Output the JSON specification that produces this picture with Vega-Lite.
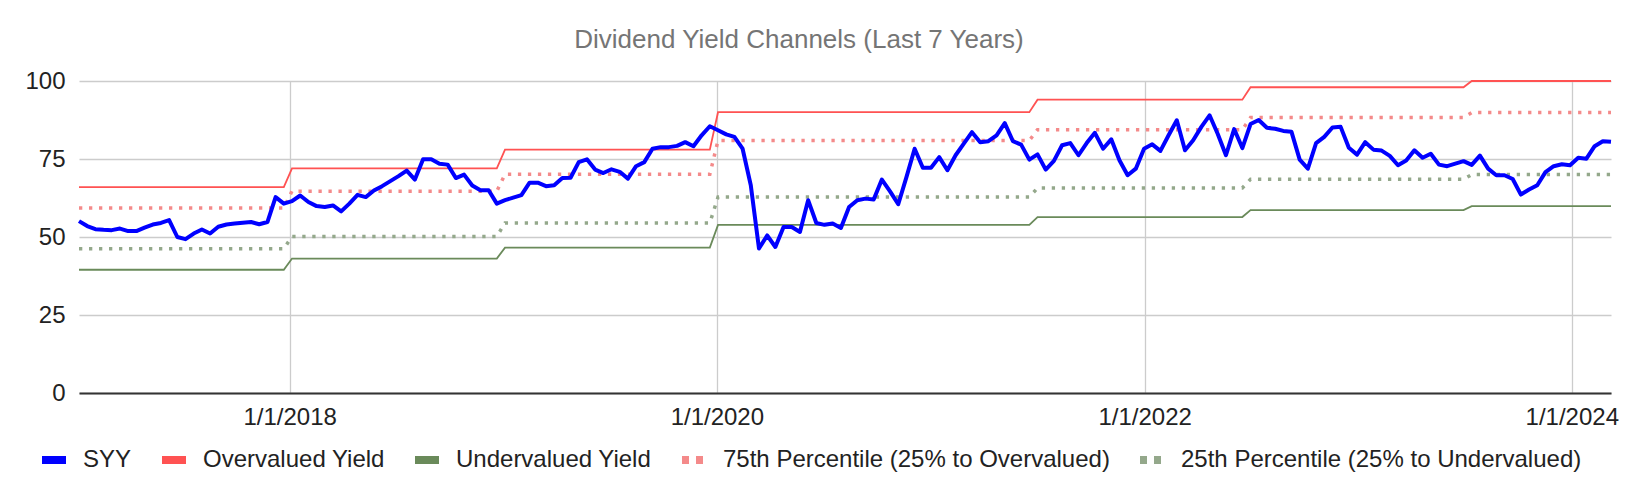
{
  "$schema": "https://vega.github.io/schema/vega-lite/v6.json",
  "width": 1532,
  "height": 312,
  "autosize": {"type": "none"},
  "padding": {"left": 79, "top": 81, "right": 25, "bottom": 101},
  "background": "white",
  "config": {"view": {"stroke": null}, "font": "Liberation Sans"},
  "title": {
    "text": "Dividend Yield Channels (Last 7 Years)",
    "fontSize": 26,
    "fontWeight": "normal",
    "color": "#757575",
    "anchor": "middle",
    "frame": "group",
    "dx": -46,
    "offset": -5,
    "baseline": "alphabetic"
  },
  "datasets": {
    "channels": [
      {"d": "2017-01-06", "s": "Overvalued Yield", "v": 66},
      {"d": "2017-12-22", "s": "Overvalued Yield", "v": 66},
      {"d": "2018-01-05", "s": "Overvalued Yield", "v": 72},
      {"d": "2018-12-21", "s": "Overvalued Yield", "v": 72},
      {"d": "2019-01-04", "s": "Overvalued Yield", "v": 78},
      {"d": "2019-12-20", "s": "Overvalued Yield", "v": 78},
      {"d": "2020-01-03", "s": "Overvalued Yield", "v": 90},
      {"d": "2021-06-18", "s": "Overvalued Yield", "v": 90},
      {"d": "2021-07-02", "s": "Overvalued Yield", "v": 94},
      {"d": "2022-06-17", "s": "Overvalued Yield", "v": 94},
      {"d": "2022-07-01", "s": "Overvalued Yield", "v": 98},
      {"d": "2023-06-30", "s": "Overvalued Yield", "v": 98},
      {"d": "2023-07-14", "s": "Overvalued Yield", "v": 100},
      {"d": "2024-03-08", "s": "Overvalued Yield", "v": 100},
      {"d": "2017-01-06", "s": "Undervalued Yield", "v": 39.5},
      {"d": "2017-12-22", "s": "Undervalued Yield", "v": 39.5},
      {"d": "2018-01-05", "s": "Undervalued Yield", "v": 43.1},
      {"d": "2018-12-21", "s": "Undervalued Yield", "v": 43.1},
      {"d": "2019-01-04", "s": "Undervalued Yield", "v": 46.6},
      {"d": "2019-12-20", "s": "Undervalued Yield", "v": 46.6},
      {"d": "2020-01-03", "s": "Undervalued Yield", "v": 53.9},
      {"d": "2021-06-18", "s": "Undervalued Yield", "v": 53.9},
      {"d": "2021-07-02", "s": "Undervalued Yield", "v": 56.4},
      {"d": "2022-06-17", "s": "Undervalued Yield", "v": 56.4},
      {"d": "2022-07-01", "s": "Undervalued Yield", "v": 58.6},
      {"d": "2023-06-30", "s": "Undervalued Yield", "v": 58.6},
      {"d": "2023-07-14", "s": "Undervalued Yield", "v": 59.9},
      {"d": "2024-03-08", "s": "Undervalued Yield", "v": 59.9},
      {"d": "2017-01-06", "s": "75th Percentile (25% to Overvalued)", "v": 59.3},
      {"d": "2017-12-22", "s": "75th Percentile (25% to Overvalued)", "v": 59.3},
      {"d": "2018-01-05", "s": "75th Percentile (25% to Overvalued)", "v": 64.7},
      {"d": "2018-12-21", "s": "75th Percentile (25% to Overvalued)", "v": 64.7},
      {"d": "2019-01-04", "s": "75th Percentile (25% to Overvalued)", "v": 70.1},
      {"d": "2019-12-20", "s": "75th Percentile (25% to Overvalued)", "v": 70.1},
      {"d": "2020-01-03", "s": "75th Percentile (25% to Overvalued)", "v": 80.9},
      {"d": "2021-06-18", "s": "75th Percentile (25% to Overvalued)", "v": 80.9},
      {"d": "2021-07-02", "s": "75th Percentile (25% to Overvalued)", "v": 84.4},
      {"d": "2022-06-17", "s": "75th Percentile (25% to Overvalued)", "v": 84.4},
      {"d": "2022-07-01", "s": "75th Percentile (25% to Overvalued)", "v": 88.3},
      {"d": "2023-06-30", "s": "75th Percentile (25% to Overvalued)", "v": 88.3},
      {"d": "2023-07-14", "s": "75th Percentile (25% to Overvalued)", "v": 89.9},
      {"d": "2024-03-08", "s": "75th Percentile (25% to Overvalued)", "v": 89.9},
      {"d": "2017-01-06", "s": "25th Percentile (25% to Undervalued)", "v": 46.2},
      {"d": "2017-12-22", "s": "25th Percentile (25% to Undervalued)", "v": 46.2},
      {"d": "2018-01-05", "s": "25th Percentile (25% to Undervalued)", "v": 50.2},
      {"d": "2018-12-21", "s": "25th Percentile (25% to Undervalued)", "v": 50.2},
      {"d": "2019-01-04", "s": "25th Percentile (25% to Undervalued)", "v": 54.5},
      {"d": "2019-12-20", "s": "25th Percentile (25% to Undervalued)", "v": 54.5},
      {"d": "2020-01-03", "s": "25th Percentile (25% to Undervalued)", "v": 62.8},
      {"d": "2021-06-18", "s": "25th Percentile (25% to Undervalued)", "v": 62.8},
      {"d": "2021-07-02", "s": "25th Percentile (25% to Undervalued)", "v": 65.7},
      {"d": "2022-06-17", "s": "25th Percentile (25% to Undervalued)", "v": 65.7},
      {"d": "2022-07-01", "s": "25th Percentile (25% to Undervalued)", "v": 68.5},
      {"d": "2023-06-30", "s": "25th Percentile (25% to Undervalued)", "v": 68.5},
      {"d": "2023-07-14", "s": "25th Percentile (25% to Undervalued)", "v": 70.0},
      {"d": "2024-03-08", "s": "25th Percentile (25% to Undervalued)", "v": 70.0}
    ],
    "syy": [
      {"d": "2017-01-06", "s": "SYY", "v": 55.1}, {"d": "2017-01-20", "s": "SYY", "v": 53.5},
      {"d": "2017-02-03", "s": "SYY", "v": 52.5}, {"d": "2017-02-17", "s": "SYY", "v": 52.3},
      {"d": "2017-03-03", "s": "SYY", "v": 52.2}, {"d": "2017-03-17", "s": "SYY", "v": 52.7},
      {"d": "2017-03-31", "s": "SYY", "v": 51.9}, {"d": "2017-04-14", "s": "SYY", "v": 51.9},
      {"d": "2017-04-28", "s": "SYY", "v": 53.0}, {"d": "2017-05-12", "s": "SYY", "v": 54.0},
      {"d": "2017-05-26", "s": "SYY", "v": 54.5}, {"d": "2017-06-09", "s": "SYY", "v": 55.4},
      {"d": "2017-06-23", "s": "SYY", "v": 50.0}, {"d": "2017-07-07", "s": "SYY", "v": 49.3},
      {"d": "2017-07-21", "s": "SYY", "v": 51.1}, {"d": "2017-08-04", "s": "SYY", "v": 52.4},
      {"d": "2017-08-18", "s": "SYY", "v": 51.1}, {"d": "2017-09-01", "s": "SYY", "v": 53.3},
      {"d": "2017-09-15", "s": "SYY", "v": 54.0}, {"d": "2017-09-29", "s": "SYY", "v": 54.3},
      {"d": "2017-10-13", "s": "SYY", "v": 54.6}, {"d": "2017-10-27", "s": "SYY", "v": 54.8},
      {"d": "2017-11-10", "s": "SYY", "v": 54.1}, {"d": "2017-11-24", "s": "SYY", "v": 54.8},
      {"d": "2017-12-08", "s": "SYY", "v": 62.8}, {"d": "2017-12-22", "s": "SYY", "v": 60.7},
      {"d": "2018-01-05", "s": "SYY", "v": 61.5}, {"d": "2018-01-19", "s": "SYY", "v": 63.3},
      {"d": "2018-02-02", "s": "SYY", "v": 61.2}, {"d": "2018-02-16", "s": "SYY", "v": 59.9},
      {"d": "2018-03-02", "s": "SYY", "v": 59.6}, {"d": "2018-03-16", "s": "SYY", "v": 60.1},
      {"d": "2018-03-30", "s": "SYY", "v": 58.2}, {"d": "2018-04-13", "s": "SYY", "v": 60.7},
      {"d": "2018-04-27", "s": "SYY", "v": 63.5}, {"d": "2018-05-11", "s": "SYY", "v": 62.8},
      {"d": "2018-05-25", "s": "SYY", "v": 64.9}, {"d": "2018-06-08", "s": "SYY", "v": 66.3},
      {"d": "2018-06-22", "s": "SYY", "v": 67.9}, {"d": "2018-07-06", "s": "SYY", "v": 69.5},
      {"d": "2018-07-20", "s": "SYY", "v": 71.3}, {"d": "2018-08-03", "s": "SYY", "v": 68.4},
      {"d": "2018-08-17", "s": "SYY", "v": 74.9}, {"d": "2018-08-31", "s": "SYY", "v": 74.9},
      {"d": "2018-09-14", "s": "SYY", "v": 73.5}, {"d": "2018-09-28", "s": "SYY", "v": 73.2},
      {"d": "2018-10-12", "s": "SYY", "v": 68.9}, {"d": "2018-10-26", "s": "SYY", "v": 70.0},
      {"d": "2018-11-09", "s": "SYY", "v": 66.5}, {"d": "2018-11-23", "s": "SYY", "v": 65.0},
      {"d": "2018-12-07", "s": "SYY", "v": 65.0}, {"d": "2018-12-21", "s": "SYY", "v": 60.7},
      {"d": "2019-01-04", "s": "SYY", "v": 61.8}, {"d": "2019-01-18", "s": "SYY", "v": 62.6},
      {"d": "2019-02-01", "s": "SYY", "v": 63.4}, {"d": "2019-02-15", "s": "SYY", "v": 67.4},
      {"d": "2019-03-01", "s": "SYY", "v": 67.4}, {"d": "2019-03-15", "s": "SYY", "v": 66.3},
      {"d": "2019-03-29", "s": "SYY", "v": 66.6}, {"d": "2019-04-12", "s": "SYY", "v": 68.9},
      {"d": "2019-04-26", "s": "SYY", "v": 69.0}, {"d": "2019-05-10", "s": "SYY", "v": 74.0},
      {"d": "2019-05-24", "s": "SYY", "v": 74.9}, {"d": "2019-06-07", "s": "SYY", "v": 71.6},
      {"d": "2019-06-21", "s": "SYY", "v": 70.5}, {"d": "2019-07-05", "s": "SYY", "v": 71.7},
      {"d": "2019-07-19", "s": "SYY", "v": 70.9}, {"d": "2019-08-02", "s": "SYY", "v": 68.7},
      {"d": "2019-08-16", "s": "SYY", "v": 72.7}, {"d": "2019-08-30", "s": "SYY", "v": 74.0},
      {"d": "2019-09-13", "s": "SYY", "v": 78.3}, {"d": "2019-09-27", "s": "SYY", "v": 78.8},
      {"d": "2019-10-11", "s": "SYY", "v": 78.8}, {"d": "2019-10-25", "s": "SYY", "v": 79.2},
      {"d": "2019-11-08", "s": "SYY", "v": 80.4}, {"d": "2019-11-22", "s": "SYY", "v": 79.1},
      {"d": "2019-12-06", "s": "SYY", "v": 82.6}, {"d": "2019-12-20", "s": "SYY", "v": 85.5},
      {"d": "2020-01-03", "s": "SYY", "v": 84.2}, {"d": "2020-01-17", "s": "SYY", "v": 82.9},
      {"d": "2020-01-31", "s": "SYY", "v": 82.1}, {"d": "2020-02-14", "s": "SYY", "v": 78.3},
      {"d": "2020-02-28", "s": "SYY", "v": 66.6}, {"d": "2020-03-13", "s": "SYY", "v": 46.3},
      {"d": "2020-03-27", "s": "SYY", "v": 50.5}, {"d": "2020-04-10", "s": "SYY", "v": 46.8},
      {"d": "2020-04-24", "s": "SYY", "v": 53.2}, {"d": "2020-05-08", "s": "SYY", "v": 53.2},
      {"d": "2020-05-22", "s": "SYY", "v": 51.6}, {"d": "2020-06-05", "s": "SYY", "v": 61.8},
      {"d": "2020-06-19", "s": "SYY", "v": 54.5}, {"d": "2020-07-03", "s": "SYY", "v": 53.9},
      {"d": "2020-07-17", "s": "SYY", "v": 54.3}, {"d": "2020-07-31", "s": "SYY", "v": 52.9},
      {"d": "2020-08-14", "s": "SYY", "v": 59.6}, {"d": "2020-08-28", "s": "SYY", "v": 61.8},
      {"d": "2020-09-11", "s": "SYY", "v": 62.3}, {"d": "2020-09-25", "s": "SYY", "v": 62.0},
      {"d": "2020-10-09", "s": "SYY", "v": 68.4}, {"d": "2020-10-23", "s": "SYY", "v": 64.6},
      {"d": "2020-11-06", "s": "SYY", "v": 60.5}, {"d": "2020-11-20", "s": "SYY", "v": 69.2},
      {"d": "2020-12-04", "s": "SYY", "v": 78.3}, {"d": "2020-12-18", "s": "SYY", "v": 72.2},
      {"d": "2021-01-01", "s": "SYY", "v": 72.2}, {"d": "2021-01-15", "s": "SYY", "v": 75.6},
      {"d": "2021-01-29", "s": "SYY", "v": 71.4}, {"d": "2021-02-12", "s": "SYY", "v": 76.2},
      {"d": "2021-02-26", "s": "SYY", "v": 79.9}, {"d": "2021-03-12", "s": "SYY", "v": 83.6},
      {"d": "2021-03-26", "s": "SYY", "v": 80.4}, {"d": "2021-04-09", "s": "SYY", "v": 80.7},
      {"d": "2021-04-23", "s": "SYY", "v": 82.6}, {"d": "2021-05-07", "s": "SYY", "v": 86.5},
      {"d": "2021-05-21", "s": "SYY", "v": 80.7}, {"d": "2021-06-04", "s": "SYY", "v": 79.6},
      {"d": "2021-06-18", "s": "SYY", "v": 74.8}, {"d": "2021-07-02", "s": "SYY", "v": 76.5},
      {"d": "2021-07-16", "s": "SYY", "v": 71.6}, {"d": "2021-07-30", "s": "SYY", "v": 74.4},
      {"d": "2021-08-13", "s": "SYY", "v": 79.4}, {"d": "2021-08-27", "s": "SYY", "v": 80.1},
      {"d": "2021-09-10", "s": "SYY", "v": 76.2}, {"d": "2021-09-24", "s": "SYY", "v": 80.1},
      {"d": "2021-10-08", "s": "SYY", "v": 83.4}, {"d": "2021-10-22", "s": "SYY", "v": 78.3},
      {"d": "2021-11-05", "s": "SYY", "v": 81.3}, {"d": "2021-11-19", "s": "SYY", "v": 74.6},
      {"d": "2021-12-03", "s": "SYY", "v": 69.8}, {"d": "2021-12-17", "s": "SYY", "v": 71.9},
      {"d": "2021-12-31", "s": "SYY", "v": 78.3}, {"d": "2022-01-14", "s": "SYY", "v": 79.7},
      {"d": "2022-01-28", "s": "SYY", "v": 77.6}, {"d": "2022-02-11", "s": "SYY", "v": 82.6},
      {"d": "2022-02-25", "s": "SYY", "v": 87.4}, {"d": "2022-03-11", "s": "SYY", "v": 77.8},
      {"d": "2022-03-25", "s": "SYY", "v": 81.0}, {"d": "2022-04-08", "s": "SYY", "v": 85.3},
      {"d": "2022-04-22", "s": "SYY", "v": 89.0}, {"d": "2022-05-06", "s": "SYY", "v": 83.0},
      {"d": "2022-05-20", "s": "SYY", "v": 76.2}, {"d": "2022-06-03", "s": "SYY", "v": 84.6},
      {"d": "2022-06-17", "s": "SYY", "v": 78.5}, {"d": "2022-07-01", "s": "SYY", "v": 86.2},
      {"d": "2022-07-15", "s": "SYY", "v": 87.5}, {"d": "2022-07-29", "s": "SYY", "v": 85.0},
      {"d": "2022-08-12", "s": "SYY", "v": 84.7}, {"d": "2022-08-26", "s": "SYY", "v": 84.0},
      {"d": "2022-09-09", "s": "SYY", "v": 83.7}, {"d": "2022-09-23", "s": "SYY", "v": 74.8},
      {"d": "2022-10-07", "s": "SYY", "v": 71.9}, {"d": "2022-10-21", "s": "SYY", "v": 80.1},
      {"d": "2022-11-04", "s": "SYY", "v": 82.1}, {"d": "2022-11-18", "s": "SYY", "v": 85.1},
      {"d": "2022-12-02", "s": "SYY", "v": 85.3}, {"d": "2022-12-16", "s": "SYY", "v": 78.6},
      {"d": "2022-12-30", "s": "SYY", "v": 76.4}, {"d": "2023-01-13", "s": "SYY", "v": 80.4},
      {"d": "2023-01-27", "s": "SYY", "v": 78.0}, {"d": "2023-02-10", "s": "SYY", "v": 77.7},
      {"d": "2023-02-24", "s": "SYY", "v": 76.0}, {"d": "2023-03-10", "s": "SYY", "v": 73.0},
      {"d": "2023-03-24", "s": "SYY", "v": 74.5}, {"d": "2023-04-07", "s": "SYY", "v": 77.8},
      {"d": "2023-04-21", "s": "SYY", "v": 75.4}, {"d": "2023-05-05", "s": "SYY", "v": 76.7},
      {"d": "2023-05-19", "s": "SYY", "v": 73.2}, {"d": "2023-06-02", "s": "SYY", "v": 72.7},
      {"d": "2023-06-16", "s": "SYY", "v": 73.5}, {"d": "2023-06-30", "s": "SYY", "v": 74.3},
      {"d": "2023-07-14", "s": "SYY", "v": 73.1}, {"d": "2023-07-28", "s": "SYY", "v": 76.1},
      {"d": "2023-08-11", "s": "SYY", "v": 71.9}, {"d": "2023-08-25", "s": "SYY", "v": 69.8},
      {"d": "2023-09-08", "s": "SYY", "v": 69.8}, {"d": "2023-09-22", "s": "SYY", "v": 68.6},
      {"d": "2023-10-06", "s": "SYY", "v": 63.6}, {"d": "2023-10-20", "s": "SYY", "v": 65.2},
      {"d": "2023-11-03", "s": "SYY", "v": 66.6}, {"d": "2023-11-17", "s": "SYY", "v": 70.8},
      {"d": "2023-12-01", "s": "SYY", "v": 72.7}, {"d": "2023-12-15", "s": "SYY", "v": 73.3},
      {"d": "2023-12-29", "s": "SYY", "v": 73.0}, {"d": "2024-01-12", "s": "SYY", "v": 75.4},
      {"d": "2024-01-26", "s": "SYY", "v": 75.1}, {"d": "2024-02-09", "s": "SYY", "v": 79.1},
      {"d": "2024-02-23", "s": "SYY", "v": 80.7}, {"d": "2024-03-08", "s": "SYY", "v": 80.5}
    ]
  },
  "encoding": {
    "x": {
      "field": "d",
      "type": "temporal",
      "scale": {
        "type": "utc",
        "nice": false,
        "domain": [
          {"year": 2017, "month": 1, "date": 6, "utc": true},
          {"year": 2024, "month": 3, "date": 8, "utc": true}
        ]
      },
      "axis": {
        "title": null,
        "values": [
          {"year": 2018, "month": 1, "date": 1, "utc": true},
          {"year": 2020, "month": 1, "date": 1, "utc": true},
          {"year": 2022, "month": 1, "date": 1, "utc": true},
          {"year": 2024, "month": 1, "date": 1, "utc": true}
        ],
        "format": "%-m/%-d/%Y",
        "labelFontSize": 24,
        "labelColor": "#222222",
        "labelPadding": 12,
        "labelFlush": false,
        "labelOverlap": false,
        "ticks": false,
        "domainColor": "#333333",
        "domainWidth": 2,
        "gridColor": "#cccccc",
        "gridWidth": 1.3
      }
    },
    "y": {
      "field": "v",
      "type": "quantitative",
      "scale": {"domain": [0, 100], "nice": false},
      "axis": {
        "title": null,
        "values": [0, 25, 50, 75, 100],
        "labelFontSize": 24,
        "labelColor": "#222222",
        "labelPadding": 14,
        "ticks": false,
        "domain": false,
        "gridColor": "#cccccc",
        "gridWidth": 1.3
      }
    },
    "color": {
      "field": "s",
      "type": "nominal",
      "scale": {
        "domain": ["SYY", "Overvalued Yield", "Undervalued Yield", "75th Percentile (25% to Overvalued)", "25th Percentile (25% to Undervalued)"],
        "range": ["#0000ff", "#ff5252", "#6a8a5a", "#f48a8a", "#94a88b"]
      },
      "legend": {
        "title": null,
        "orient": "none",
        "direction": "horizontal",
        "legendX": -41,
        "legendY": 363,
        "padding": 0,
        "symbolType": "stroke",
        "symbolSize": 576,
        "symbolStrokeWidth": 8,
        "symbolOpacity": 1,
        "labelFontSize": 24,
        "labelColor": "#222222",
        "labelLimit": 800,
        "labelOffset": 13,
        "columnPadding": 14,
        "encoding": {
          "symbols": {
            "strokeDash": {"value": {"expr": "test(/Percentile/, datum.value) ? [7, 7] : [40, 0]"}}
          }
        }
      }
    }
  },
  "layer": [
    {
      "data": {"name": "channels"},
      "transform": [{"filter": {"field": "s", "oneOf": ["Overvalued Yield", "Undervalued Yield"]}}],
      "mark": {"type": "line", "strokeWidth": 1.8}
    },
    {
      "data": {"name": "channels"},
      "transform": [{"filter": {"field": "s", "oneOf": ["75th Percentile (25% to Overvalued)", "25th Percentile (25% to Undervalued)"]}}],
      "mark": {"type": "line", "strokeWidth": 3.5, "strokeDash": [3.3, 6.7], "strokeCap": "butt"}
    },
    {
      "data": {"name": "syy"},
      "mark": {"type": "line", "strokeWidth": 4, "strokeJoin": "round"}
    }
  ]
}
